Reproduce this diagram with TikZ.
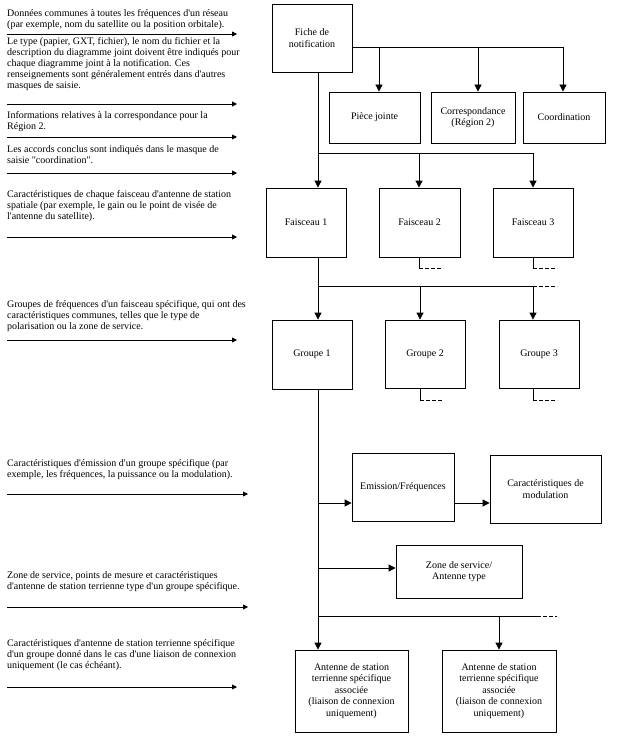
\documentclass[tikz,border=0pt]{standalone}
\usepackage{fontspec}
\setmainfont{Liberation Serif}[Ligatures=TeXOff]
\usetikzlibrary{positioning, arrows.meta}

\begin{document}
\begin{tikzpicture}[x=1pt, y=-1pt,
  box/.style={rectangle, draw, line width=0.8pt, align=center, inner sep=2pt, font=\fontsize{10}{11.5}\selectfont},
  note/.style={anchor=north west, align=left, inner sep=0pt, font=\fontsize{10}{11}\selectfont},
  link/.style={line width=0.8pt},
  arr/.style={link, -{Triangle[length=7pt, width=7pt]}},
  ptr/.style={link, -{Triangle[length=5pt, width=5pt]}},
  stub/.style={link, dash pattern=on 4pt off 2pt}
]
  \useasboundingbox (0,0) rectangle (633,741);

  % Notes on the left
  \node[note] (n1) at (7,9) {Données communes à toutes les fréquences d'un réseau\\(par exemple, nom du satellite ou la position orbitale).};
  \node[note] (n2) at (7,37.5) {Le type (papier, GXT, fichier), le nom du fichier et la\\description du diagramme joint doivent être indiqués pour\\chaque diagramme joint à la notification. Ces\\renseignements sont généralement entrés dans d'autres\\masques de saisie.};
  \node[note] (n3) at (7,111.5) {Informations relatives à la correspondance pour la\\Région 2.};
  \node[note] (n4) at (7,145.5) {Les accords conclus sont indiqués dans le masque de\\saisie "coordination".};
  \node[note] (n5) at (7,190) {Caractéristiques de chaque faisceau d'antenne de station\\spatiale (par exemple, le gain ou le point de visée de\\l'antenne du satellite).};
  \node[note] (n6) at (7,300.5) {Groupes de fréquences d'un faisceau spécifique, qui ont des\\caractéristiques communes, telles que le type de\\polarisation ou la zone de service.};
  \node[note] (n7) at (7,459) {Caractéristiques d'émission d'un groupe spécifique (par\\exemple, les fréquences, la puissance ou la modulation).};
  \node[note] (n8) at (7,571.5) {Zone de service, points de mesure et caractéristiques\\d'antenne de station terrienne type d'un groupe spécifique.};
  \node[note] (n9) at (7,639) {Caractéristiques d'antenne de station terrienne spécifique\\d'un groupe donné dans le cas d'une liaison de connexion\\uniquement (le cas échéant).};

  % Pointers under the notes
  \foreach \y/\xe [count=\i] in {34/237, 104/237, 137/237, 173/237, 237/237, 340/237, 494/248, 607/248, 687/237} {
    \coordinate (ps\i) at (7,\y);
    \coordinate (pe\i) at (\xe,\y);
    \draw[ptr] (ps\i) -- (pe\i);
  }

  % Boxes
  \node[box, minimum width=80pt, minimum height=68pt] (fiche) at (312,38) {Fiche de\\notification};
  \node[box, minimum width=91pt, minimum height=51pt] (pj) at (374.5,117.5) {Pièce jointe};
  \node[box, minimum width=84pt, minimum height=51pt] (corr) at (473,117.5) {Correspondance\\(Région 2)};
  \node[box, minimum width=82pt, minimum height=51pt] (coord) at (564,117.5) {Coordination};

  \node[box, minimum width=80pt, minimum height=69pt] (f1) at (306,222.5) {Faisceau 1};
  \node[box, minimum width=81pt, minimum height=69pt] (f2) at (419.5,222.5) {Faisceau 2};
  \node[box, minimum width=80pt, minimum height=69pt] (f3) at (533,222.5) {Faisceau 3};

  \node[box, minimum width=80pt, minimum height=69pt] (g1) at (312,354.5) {Groupe 1};
  \node[box, minimum width=80pt, minimum height=68pt] (g2) at (425,354) {Groupe 2};
  \node[box, minimum width=80pt, minimum height=68pt] (g3) at (539,354) {Groupe 3};

  \node[box, minimum width=102pt, minimum height=68pt] (emis) at (403,487) {Emission/Fréquences};
  \node[box, minimum width=111pt, minimum height=68pt] (modu) at (545.5,489) {Caractéristiques de\\modulation};
  \node[box, minimum width=126pt, minimum height=53pt] (zone) at (459,571.5) {Zone de service/\\Antenne type};

  \node[box, minimum width=113pt, minimum height=82pt] (ant1) at (351.5,691) {Antenne de station\\terrienne spécifique\\associée\\(liaison de connexion\\uniquement)};
  \node[box, minimum width=114pt, minimum height=82pt] (ant2) at (499,691) {Antenne de station\\terrienne spécifique\\associée\\(liaison de connexion\\uniquement)};

  % Fiche -> attachments
  \coordinate (b1a) at (379,47);
  \coordinate (b1b) at (478,47);
  \coordinate (b1c) at (563,47);
  \draw[link] (fiche.east |- b1a) -- (b1c);
  \draw[arr] (b1a) -- (b1a |- pj.north);
  \draw[arr] (b1b) -- (b1b |- corr.north);
  \draw[arr] (b1c) -- (b1c |- coord.north);

  % Fiche -> faisceaux
  \coordinate (t1) at (318,153);
  \coordinate (b2b) at (419,153);
  \coordinate (b2c) at (533,153);
  \draw[link] (t1 |- fiche.south) -- (t1) -- (b2c);
  \draw[arr] (t1) -- (t1 |- f1.north);
  \draw[arr] (b2b) -- (b2b |- f2.north);
  \draw[arr] (b2c) -- (b2c |- f3.north);
  \draw[link] (b2b |- f2.south) -- ++(0,10.5) coordinate (s2);
  \draw[stub] (s2) -- ++(24,0);
  \draw[link] (b2c |- f3.south) -- ++(0,10.5) coordinate (s3);
  \draw[stub] (s3) -- ++(24,0);

  % Faisceau 1 -> groupes
  \coordinate (t2) at (318,286);
  \coordinate (b3b) at (420,286);
  \coordinate (b3c) at (533,286);
  \draw[link] (t2 |- f1.south) -- (t2) -- (b3c);
  \draw[stub] (b3c) -- ++(24,0);
  \draw[arr] (t2) -- (t2 |- g1.north);
  \draw[arr] (b3b) -- (b3b |- g2.north);
  \draw[arr] (b3c) -- (b3c |- g3.north);
  \draw[link] (b3b |- g2.south) -- ++(0,12) coordinate (s4);
  \draw[stub] (s4) -- ++(23,0);
  \draw[link] (b3c |- g3.south) -- ++(0,12) coordinate (s5);
  \draw[stub] (s5) -- ++(24,0);

  % Groupe 1 -> details
  \coordinate (t3) at (318,616);
  \coordinate (b4b) at (499,616);
  \coordinate (b4c) at (537,616);
  \coordinate (e0) at (318,503);
  \coordinate (z0) at (318,568);
  \draw[link] (t3 |- g1.south) -- (t3) -- (b4c);
  \draw[stub] (b4c) -- ++(20,0);
  \draw[arr] (e0) -- (e0 -| emis.west);
  \draw[arr] (e0 -| emis.east) -- (e0 -| modu.west);
  \draw[arr] (z0) -- (z0 -| zone.west);
  \draw[arr] (t3) -- (t3 |- ant1.north);
  \draw[arr] (b4b) -- (b4b |- ant2.north);
\end{tikzpicture}
\end{document}
